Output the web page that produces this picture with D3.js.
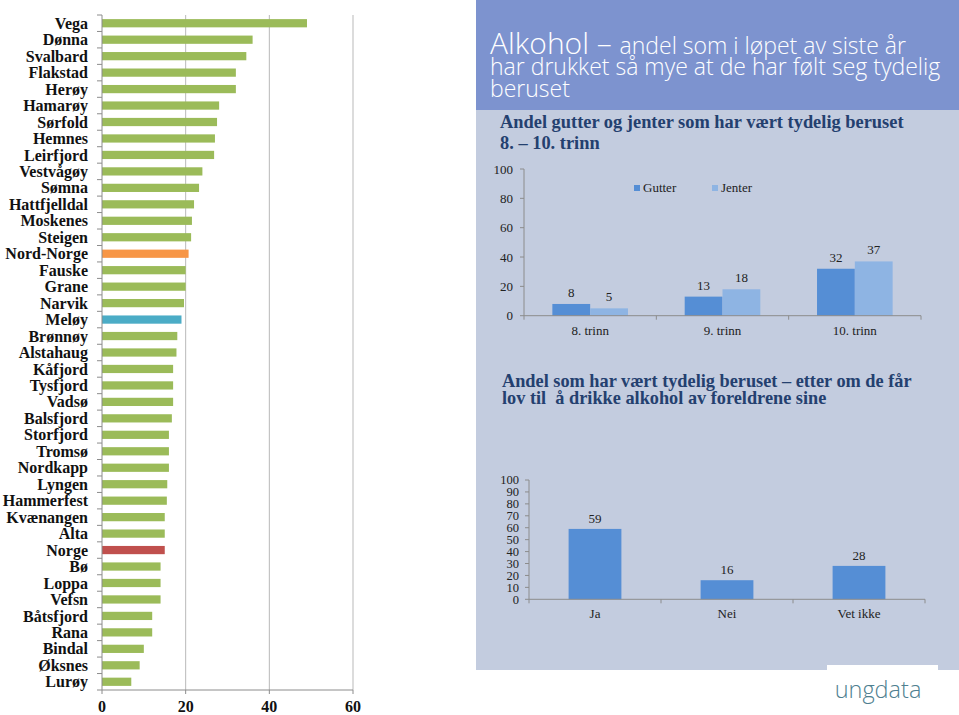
<!DOCTYPE html>
<html><head><meta charset="utf-8">
<script src="https://cdn.jsdelivr.net/npm/d3@7"></script>
<style>
html,body{margin:0;padding:0;background:#fff;}
svg{display:block;}
</style></head>
<body>
<svg id="c" width="959" height="715"></svg>
<script>
// ---------- data ----------
const municipalities = ["Vega","Dønna","Svalbard","Flakstad","Herøy","Hamarøy","Sørfold","Hemnes","Leirfjord","Vestvågøy","Sømna","Hattfjelldal","Moskenes","Steigen","Nord-Norge","Fauske","Grane","Narvik","Meløy","Brønnøy","Alstahaug","Kåfjord","Tysfjord","Vadsø","Balsfjord","Storfjord","Tromsø","Nordkapp","Lyngen","Hammerfest","Kvænangen","Alta","Norge","Bø","Loppa","Vefsn","Båtsfjord","Rana","Bindal","Øksnes","Lurøy"];
const municipalityValues = [49,36,34.5,32,32,28,27.5,27,26.8,24,23.2,22,21.5,21.3,20.7,20,20,19.6,19,18,17.8,17,17,17,16.7,16,16,16,15.6,15.5,15,15,15,14,14,14,12,12,10,9,7];
const xTicksLeft = [0,20,40,60];

const grades = ["8. trinn","9. trinn","10. trinn"];
const genders = ["Gutter","Jenter"];
const gutterValues = [8,13,32];
const jenterValues = [5,18,37];
const gradeTicks = [0,20,40,60,80,100];

const permissionCats = ["Ja","Nei","Vet ikke"];
const permissionValues = [59,16,28];
const permissionTicks = [0,10,20,30,40,50,60,70,80,90,100];

// ---------- styles ----------
const COL_GREEN = "#9BBB59", COL_ORANGE = "#F79646", COL_TEAL = "#4BACC6", COL_RED = "#C0504D";
const COL_GUTTER = "#558ED5", COL_JENTER = "#8EB4E3";
const SERIF = "'Liberation Serif','DejaVu Serif',serif";
const SANS = "'Open Sans','DejaVu Sans',sans-serif";
const TITLE_COL = "#24406F";
const AXIS_COL = "#8C8C8C";

const svg = d3.select("#c");

// ================= LEFT CHART =================
const xL = d3.scaleLinear().domain([0,60]).range([102,353]);
const yL = d3.scaleBand().domain(municipalities).range([15,690]).paddingInner(0.5).paddingOuter(0.25);
const gL = svg.append("g");

gL.selectAll("line.grid").data(xTicksLeft.slice(1)).join("line")
  .attr("x1",d=>xL(d)).attr("x2",d=>xL(d)).attr("y1",15).attr("y2",690)
  .attr("stroke","#B9B9B9").attr("stroke-width",1);

function barColor(name){
  if(name==="Nord-Norge") return COL_ORANGE;
  if(name==="Meløy") return COL_TEAL;
  if(name==="Norge") return COL_RED;
  return COL_GREEN;
}
gL.selectAll("rect.bar").data(municipalities).join("rect")
  .attr("x",xL(0)).attr("y",d=>yL(d))
  .attr("width",(d,i)=>xL(municipalityValues[i])-xL(0))
  .attr("height",yL.bandwidth())
  .attr("fill",d=>barColor(d));

gL.append("line").attr("x1",xL(0)).attr("x2",xL(0)).attr("y1",15).attr("y2",690).attr("stroke",AXIS_COL);
const bounds = d3.range(municipalities.length+1).map(i=>15+i*yL.step());
gL.selectAll("line.yt").data(bounds).join("line")
  .attr("x1",xL(0)-5).attr("x2",xL(0)).attr("y1",d=>d).attr("y2",d=>d).attr("stroke",AXIS_COL);

gL.selectAll("text.lab").data(municipalities).join("text")
  .attr("x",88).attr("y",d=>yL(d)+yL.bandwidth()/2)
  .attr("dy","0.35em").attr("text-anchor","end")
  .attr("font-family",SERIF).attr("font-weight","bold").attr("font-size",16).attr("fill","#111")
  .text(d=>d);

gL.append("line").attr("x1",xL(0)).attr("x2",xL(60)).attr("y1",690).attr("y2",690).attr("stroke",AXIS_COL);
gL.selectAll("line.xt").data(xTicksLeft).join("line")
  .attr("x1",d=>xL(d)).attr("x2",d=>xL(d)).attr("y1",690).attr("y2",694).attr("stroke",AXIS_COL);
gL.selectAll("text.xl").data(xTicksLeft).join("text")
  .attr("x",d=>xL(d)).attr("y",712).attr("text-anchor","middle")
  .attr("font-family",SERIF).attr("font-weight","bold").attr("font-size",16).attr("fill","#111")
  .text(d=>d);

// ================= RIGHT PANEL =================
const P = svg.append("g");
P.append("rect").attr("x",476).attr("y",0).attr("width",483).attr("height",670).attr("fill","#C3CCDF");
P.append("rect").attr("x",476).attr("y",0).attr("width",483).attr("height",110).attr("fill","#7D93CF");
P.append("rect").attr("x",827).attr("y",665).attr("width",111).attr("height",50).attr("fill","#fff");

// header text
const h1 = P.append("text").attr("x",490).attr("y",54).attr("fill","#fff").attr("font-family",SANS).attr("font-weight",300);
h1.append("tspan").attr("font-size",30).text("Alkohol – ");
h1.append("tspan").attr("font-size",23).text("andel som i løpet av siste år");
P.append("text").attr("x",490).attr("y",75).attr("fill","#fff").attr("font-family",SANS).attr("font-weight",300)
  .attr("font-size",23).text("har drukket så mye at de har følt seg tydelig");
P.append("text").attr("x",490).attr("y",97).attr("fill","#fff").attr("font-family",SANS).attr("font-weight",300)
  .attr("font-size",23).text("beruset");

// ---- chart 1 ----
P.append("text").attr("x",500).attr("y",128).attr("fill",TITLE_COL).attr("font-family",SERIF).attr("font-weight","bold")
  .attr("font-size",18.4).text("Andel gutter og jenter som har vært tydelig beruset");
P.append("text").attr("x",500).attr("y",149).attr("fill",TITLE_COL).attr("font-family",SERIF).attr("font-weight","bold")
  .attr("font-size",18.4).text("8. – 10. trinn");

const x0 = d3.scaleBand().domain(grades).range([524,921]);
const x1 = d3.scaleBand().domain(genders).range([0,x0.bandwidth()]).paddingOuter(0.75);
const y1 = d3.scaleLinear().domain([0,100]).range([315.7,169]);
const c1 = P.append("g");
const genderVals = {Gutter:gutterValues, Jenter:jenterValues};
const genderCol = {Gutter:COL_GUTTER, Jenter:COL_JENTER};
genders.forEach(g=>{
  c1.selectAll(null).data(grades).join("rect")
    .attr("x",d=>x0(d)+x1(g)).attr("width",x1.bandwidth())
    .attr("y",(d,i)=>y1(genderVals[g][i])).attr("height",(d,i)=>y1(0)-y1(genderVals[g][i]))
    .attr("fill",genderCol[g]);
  c1.selectAll(null).data(grades).join("text")
    .attr("x",d=>x0(d)+x1(g)+x1.bandwidth()/2).attr("y",(d,i)=>y1(genderVals[g][i])-7)
    .attr("text-anchor","middle").attr("font-family",SERIF).attr("font-size",13).attr("fill","#222")
    .text((d,i)=>genderVals[g][i]);
});
c1.append("line").attr("x1",524).attr("x2",524).attr("y1",y1(100)).attr("y2",y1(0)).attr("stroke",AXIS_COL);
c1.append("line").attr("x1",524).attr("x2",921).attr("y1",y1(0)).attr("y2",y1(0)).attr("stroke",AXIS_COL);
c1.selectAll("line.t").data(gradeTicks).join("line")
  .attr("x1",520).attr("x2",524).attr("y1",d=>y1(d)).attr("y2",d=>y1(d)).attr("stroke",AXIS_COL);
c1.selectAll("text.t").data(gradeTicks).join("text")
  .attr("x",513).attr("y",d=>y1(d)).attr("dy","0.35em").attr("text-anchor","end")
  .attr("font-family",SERIF).attr("font-size",13).attr("fill","#222").text(d=>d);
const catB1 = grades.map(g=>x0(g)).concat([x0.range()[1]]);
c1.selectAll("line.ct").data(catB1).join("line")
  .attr("x1",d=>d).attr("x2",d=>d).attr("y1",y1(0)).attr("y2",y1(0)+4).attr("stroke",AXIS_COL);
c1.selectAll("text.c").data(grades).join("text")
  .attr("x",d=>x0(d)+x0.bandwidth()/2).attr("y",335).attr("text-anchor","middle")
  .attr("font-family",SERIF).attr("font-size",13).attr("fill","#222").text(d=>d);
const legX = {Gutter:634, Jenter:712};
genders.forEach(g=>{
  c1.append("rect").attr("x",legX[g]).attr("y",185).attr("width",6).attr("height",6).attr("fill",genderCol[g]);
  c1.append("text").attr("x",legX[g]+9).attr("y",192).attr("font-family",SERIF).attr("font-size",13).attr("fill","#222").text(g);
});

// ---- chart 2 ----
P.append("text").attr("x",502).attr("y",387).attr("fill",TITLE_COL).attr("font-family",SERIF).attr("font-weight","bold")
  .attr("font-size",18.3).text("Andel som har vært tydelig beruset – etter om de får");
P.append("text").attr("x",502).attr("y",404).attr("fill",TITLE_COL).attr("font-family",SERIF).attr("font-weight","bold")
  .attr("font-size",18.3).attr("xml:space","preserve").text("lov til  å drikke alkohol av foreldrene sine");

const xc = d3.scaleBand().domain(permissionCats).range([529,925]);
const xb = d3.scaleBand().domain(permissionCats).range([529,925]).paddingInner(0.6).paddingOuter(0.3);
const y2 = d3.scaleLinear().domain([0,100]).range([599.3,480]);
const c2 = P.append("g");
c2.selectAll("rect").data(permissionCats).join("rect")
  .attr("x",d=>xb(d)).attr("width",xb.bandwidth())
  .attr("y",(d,i)=>y2(permissionValues[i])).attr("height",(d,i)=>y2(0)-y2(permissionValues[i]))
  .attr("fill",COL_GUTTER);
c2.selectAll("text.v").data(permissionCats).join("text")
  .attr("x",d=>xb(d)+xb.bandwidth()/2).attr("y",(d,i)=>y2(permissionValues[i])-6)
  .attr("text-anchor","middle").attr("font-family",SERIF).attr("font-size",13).attr("fill","#222")
  .text((d,i)=>permissionValues[i]);
c2.append("line").attr("x1",529).attr("x2",529).attr("y1",y2(100)).attr("y2",y2(0)).attr("stroke",AXIS_COL);
c2.append("line").attr("x1",529).attr("x2",925).attr("y1",y2(0)).attr("y2",y2(0)).attr("stroke",AXIS_COL);
c2.selectAll("line.t").data(permissionTicks).join("line")
  .attr("x1",525).attr("x2",529).attr("y1",d=>y2(d)).attr("y2",d=>y2(d)).attr("stroke",AXIS_COL);
c2.selectAll("text.t").data(permissionTicks).join("text")
  .attr("x",519).attr("y",d=>y2(d)).attr("dy","0.35em").attr("text-anchor","end")
  .attr("font-family",SERIF).attr("font-size",12.5).attr("fill","#222").text(d=>d);
const catB2 = permissionCats.map(c=>xc(c)).concat([xc.range()[1]]);
c2.selectAll("line.ct").data(catB2).join("line")
  .attr("x1",d=>d).attr("x2",d=>d).attr("y1",y2(0)).attr("y2",y2(0)+4).attr("stroke",AXIS_COL);
c2.selectAll("text.c").data(permissionCats).join("text")
  .attr("x",d=>xc(d)+xc.bandwidth()/2).attr("y",618).attr("text-anchor","middle")
  .attr("font-family",SERIF).attr("font-size",13).attr("fill","#222").text(d=>d);

// logo
P.append("text").attr("x",878).attr("y",698).attr("text-anchor","middle").attr("font-family",SANS).attr("font-weight",300)
  .attr("font-size",23.5).attr("fill","#4F7F90").text("ungdata");
</script>
</body></html>
